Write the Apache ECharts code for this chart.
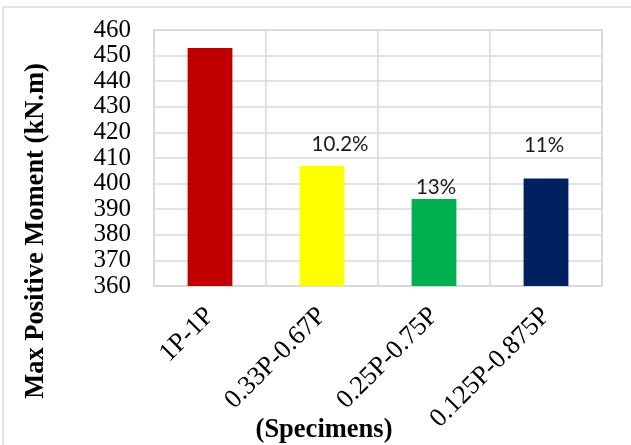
<!DOCTYPE html>
<html>
<head>
<meta charset="utf-8">
<script src="https://cdn.jsdelivr.net/npm/echarts@6/dist/echarts.min.js"></script>
<style>
  html, body { margin: 0; padding: 0; background: #ffffff; }
  #chart { width: 631px; height: 445px; }
</style>
</head>
<body>
<div id="chart"></div>
<script>
// Specimen groups and their peak positive moments (kN.m)
const specimens = ['1P-1P', '0.33P-0.67P', '0.25P-0.75P', '0.125P-0.875P'];
const maxMoment = [453, 407, 394, 402];
// Reduction relative to 1P-1P, shown above each bar
const reductionLabels = ['', '10.2%', '13%', '11%'];
const barColors = ['#C00000', '#FFFF00', '#00B050', '#002060'];
const yTicks = { min: 360, max: 460, interval: 10 };

const serif = '"Liberation Serif", "Times New Roman", serif';
const gridColor = '#d9d9d9';

// label nudges for the reduction percentages
const labelNudge = [[0, 0], [18, -11], [2, -2], [-2, -23]];

const chart = echarts.init(document.getElementById('chart'), null, { renderer: 'canvas' });

chart.setOption({
  animation: false,
  backgroundColor: '#ffffff',
  grid: {
    left: 154, right: 29, top: 30, bottom: 159,
    show: true, borderColor: gridColor, borderWidth: 1.5, backgroundColor: 'transparent'
  },
  xAxis: {
    type: 'category',
    data: specimens,
    boundaryGap: true,
    axisLine: { show: true, lineStyle: { color: gridColor, width: 1.5 } },
    axisTick: { show: false },
    splitLine: { show: true, interval: 0, lineStyle: { color: gridColor, width: 1.5 } },
    axisLabel: {
      interval: 0, rotate: 45, margin: 26,
      fontFamily: serif, fontSize: 26.5, color: '#000000'
    }
  },
  yAxis: {
    type: 'value',
    min: yTicks.min, max: yTicks.max, interval: yTicks.interval,
    axisLine: { show: false },
    axisTick: { show: false },
    splitLine: { show: true, lineStyle: { color: gridColor, width: 1.5 } },
    axisLabel: { margin: 23, fontFamily: serif, fontSize: 25, color: '#000000' }
  },
  series: [{
    type: 'bar',
    barWidth: '40%',
    data: maxMoment.map((v, i) => ({
      value: v,
      itemStyle: { color: barColors[i] },
      label: {
        show: reductionLabels[i] !== '',
        formatter: reductionLabels[i],
        offset: labelNudge[i]
      }
    })),
    label: {
      position: 'top', distance: 0,
      fontFamily: 'Lato, "Open Sans", sans-serif', fontSize: 20.5, lineHeight: 20,
      color: '#1a1a1a'
    }
  }],
  graphic: [
    {
      type: 'rect', silent: true, z: -1,
      shape: { x: 3, y: 7, width: 700, height: 500 },
      style: { fill: 'none', stroke: gridColor, lineWidth: 1.5 }
    },
    {
      type: 'text', x: 36, y: 231, rotation: Math.PI / 2,
      style: {
        text: 'Max Positive Moment (kN.m)',
        font: 'bold 26.5px ' + serif, fill: '#000000',
        align: 'center', verticalAlign: 'middle'
      }
    },
    {
      type: 'text', x: 324, y: 430,
      style: {
        text: '(Specimens)',
        font: 'bold 26.5px ' + serif, fill: '#000000',
        align: 'center', verticalAlign: 'middle'
      }
    }
  ]
});
</script>
</body>
</html>
